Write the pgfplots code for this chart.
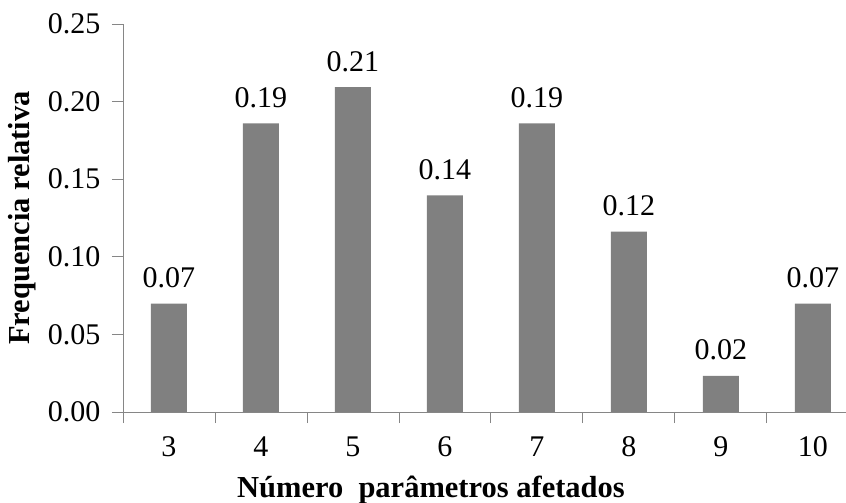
\documentclass[border=0pt]{standalone}
\usepackage{fontspec}
\setmainfont{Liberation Serif}
\usepackage{pgfplots}
\pgfplotsset{compat=1.18}
\definecolor{bargray}{HTML}{808080}
\definecolor{axgray}{HTML}{868686}

\begin{document}
\begin{tikzpicture}
\begin{axis}[
  scale only axis,
  width=723pt, height=388pt,
  xmin=2.5, xmax=10.36,
  ymin=0, ymax=0.25,
  axis x line=bottom, axis y line=left,
  axis line style={-, draw=axgray, line width=0.9pt},
  tick style={draw=axgray, line width=0.9pt},
  tick align=outside,
  major tick length=11pt,
  xtick={2.5,3.5,...,9.5},
  xticklabels={},
  extra x ticks={3,4,...,10},
  extra x tick style={major tick length=0pt, tick style={draw=none}},
  extra x tick labels={3,4,5,6,7,8,9,10},
  ytick={0,0.05,...,0.25},
  yticklabel style={xshift=-8pt, /pgf/number format/.cd, fixed, fixed zerofill, precision=2},
  /pgf/number format/assume math mode=true,
  every tick label/.append style={font=\fontsize{30}{34}\selectfont},
  xticklabel style={yshift=-21pt},
  ylabel={\textbf{Frequencia relativa}},
  ylabel style={font=\fontsize{30.5}{34}\selectfont, at={(axis description cs:-0.1397,0.5)}, anchor=center},
  xlabel={\textbf{Número\ \ parâmetros afetados}},
  xlabel style={font=\fontsize{30.5}{34}\selectfont, at={(axis description cs:0.426,0)}, anchor=center, yshift=-78pt},
  ybar, bar width=36pt,
  nodes near coords,
  nodes near coords style={font=\fontsize{30}{34}\selectfont, yshift=12pt, /pgf/number format/.cd, fixed, fixed zerofill, precision=2, assume math mode=true},
  clip=false,
]
\addplot[fill=bargray, draw=none] coordinates {
  (3,0.0698) (4,0.1860) (5,0.2093) (6,0.1395)
  (7,0.1860) (8,0.1163) (9,0.0233) (10,0.0698)
};
\coordinate (bl) at (rel axis cs:0,0);
\end{axis}
\pgfresetboundingbox
\path (bl) ++(-123pt,-91pt) rectangle ++(846pt,503pt);
\end{tikzpicture}
\end{document}
